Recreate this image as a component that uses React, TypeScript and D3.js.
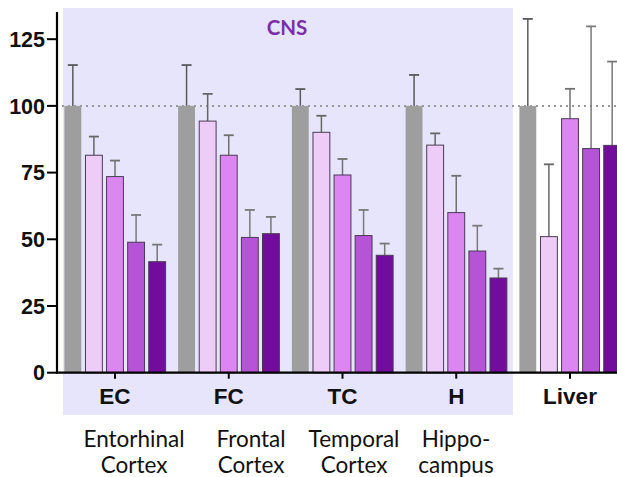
import React from "react";
import * as d3 from "d3";

const groups = ["EC", "FC", "TC", "H", "Liver"];
const series = ["s0", "s1", "s2", "s3", "s4"];
const values: number[][] = [
  [100, 81.5, 73.5, 48.9, 41.6],
  [100, 94.3, 81.5, 50.7, 52.1],
  [100, 90.1, 74.1, 51.4, 44],
  [100, 85.3, 60, 45.6, 35.5],
  [100, 51, 95.2, 84, 85.2],
];
const errTops: number[][] = [
  [115.3, 88.5, 79.5, 59.1, 48],
  [115.3, 104.5, 89, 61, 58.4],
  [106.3, 96.3, 80.1, 61, 48.4],
  [111.6, 89.7, 73.8, 55.1, 39],
  [132.6, 78.1, 106.4, 129.8, 116.6],
];
const yTicks = [0, 25, 50, 75, 100, 125];
const fullNames: string[][] = [
  ["Entorhinal", "Cortex"],
  ["Frontal", "Cortex"],
  ["Temporal", "Cortex"],
  ["Hippo-", "campus"],
];
const nameCenters = [134, 251, 354, 456];
const fills = ["#9e9e9e", "#eeccf8", "#dc86f2", "#b554d6", "#720c9c"];
const errColors = ["#5a5a5a", "#666666", "#707070", "#7a7a7a", "#777777"];

export default function App() {
  const W = 617;
  const H = 477;
  const step = 113.75;
  const start = 115 - step / 2;
  const x0 = d3
    .scaleBand<string>()
    .domain(groups)
    .range([start, start + step * groups.length])
    .paddingInner(0.11)
    .paddingOuter(0.055);
  const x1 = d3
    .scaleBand<string>()
    .domain(series)
    .range([0, x0.bandwidth()])
    .paddingInner(0.2);
  const y = d3.scaleLinear().domain([0, 135]).range([372.7, 12.5]);
  const axisX = 57;
  const y0 = y(0);
  const cnsRight = (x0("H") as number) + x0.bandwidth() + 6;
  const bw = x1.bandwidth();

  return (
    <svg
      width={W}
      height={H}
      style={{ position: "absolute", left: 0, top: 0, background: "#fff" }}
    >
      <rect x={63} y={8} width={cnsRight - 63} height={415 - 8} fill="#e6e5fb" />
      <text
        x={287}
        y={35}
        textAnchor="middle"
        fontFamily="Lato"
        fontWeight="bold"
        fontSize={20.5}
        fill="#7a2fa6"
      >
        CNS
      </text>
      <line
        x1={62}
        x2={W}
        y1={y(100)}
        y2={y(100)}
        stroke="#999"
        strokeWidth={2}
        strokeDasharray="2,4"
      />
      {groups.map((g, gi) =>
        series.map((s, si) => {
          const bx = (x0(g) as number) + (x1(s) as number);
          const cx = bx + bw / 2;
          const v = values[gi][si];
          const e = errTops[gi][si];
          return (
            <g key={g + s}>
              <line x1={cx} x2={cx} y1={y(v)} y2={y(e)} stroke={errColors[si]} strokeWidth={1.5} />
              <line x1={cx - 5} x2={cx + 5} y1={y(e)} y2={y(e)} stroke={errColors[si]} strokeWidth={1.8} />
              <rect
                x={bx}
                y={y(v)}
                width={bw}
                height={y0 - y(v)}
                fill={fills[si]}
                stroke={si === 0 ? "none" : "#4a3a56"}
                strokeWidth={1}
              />
            </g>
          );
        })
      )}
      <line x1={axisX} x2={axisX} y1={12} y2={y0 + 1} stroke="#000" strokeWidth={2.2} />
      <line x1={axisX - 1} x2={W} y1={y0} y2={y0} stroke="#000" strokeWidth={2.2} />
      {yTicks.map((t) => (
        <g key={t}>
          <line x1={axisX - 10} x2={axisX} y1={y(t)} y2={y(t)} stroke="#000" strokeWidth={2} />
          <text
            x={45}
            y={y(t)}
            dy="0.36em"
            textAnchor="end"
            fontFamily="Liberation Sans"
            fontWeight="bold"
            fontSize={21.5}
            fill="#111"
          >
            {t}
          </text>
        </g>
      ))}
      {groups.map((g) => {
        const cx = (x0(g) as number) + x0.bandwidth() / 2;
        return (
          <g key={g}>
            <line x1={cx} x2={cx} y1={y0} y2={y0 + 6} stroke="#000" strokeWidth={2} />
            <text
              x={cx}
              y={404}
              textAnchor="middle"
              fontFamily="Liberation Sans"
              fontWeight="bold"
              fontSize={22.5}
              fill="#111"
            >
              {g}
            </text>
          </g>
        );
      })}
      {fullNames.map((lines, i) => (
        <text
          key={i}
          x={nameCenters[i]}
          textAnchor="middle"
          fontFamily="Lato"
          fontSize={22.5}
          fill="#111"
        >
          {lines.map((l, li) => (
            <tspan key={li} x={nameCenters[i]} y={447 + li * 26}>
              {l}
            </tspan>
          ))}
        </text>
      ))}
    </svg>
  );
}
